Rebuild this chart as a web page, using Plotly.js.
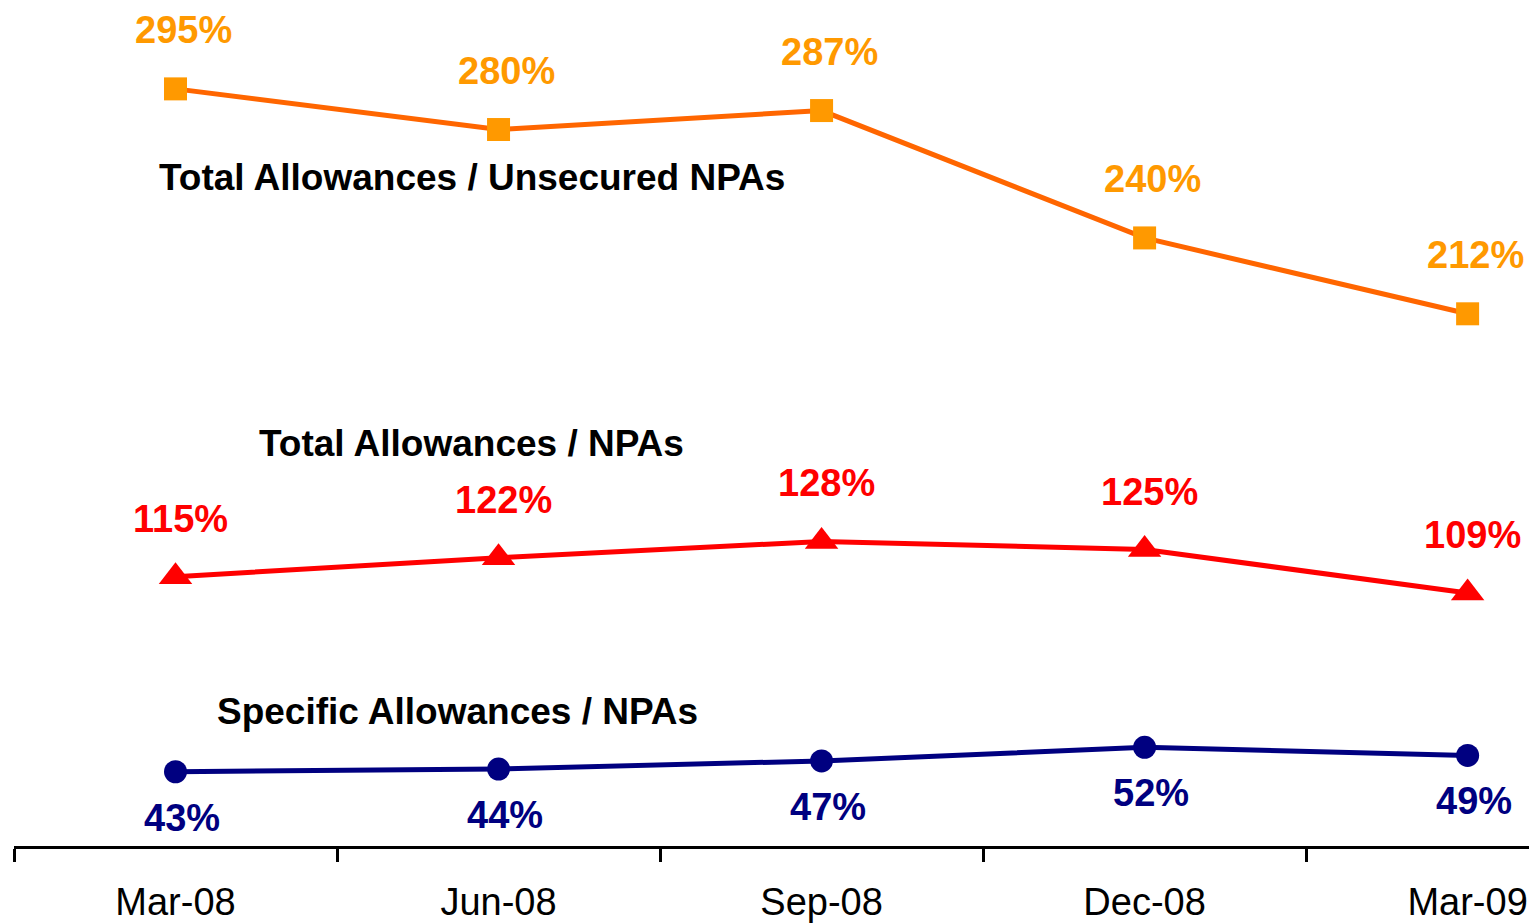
<!DOCTYPE html>
<html>
<head>
<meta charset="utf-8">
<script src="https://cdn.plot.ly/plotly-3.0.1.min.js"></script>
<style>
html,body{margin:0;padding:0;background:#fff;}
#chart{width:1529px;height:923px;}
</style>
</head>
<body>
<div id="chart"></div>
<script>
const categories = ["Mar-08", "Jun-08", "Sep-08", "Dec-08", "Mar-09"];
const unsecuredRatio = [295, 280, 287, 240, 212];
const totalRatio = [115, 122, 128, 125, 109];
const specificRatio = [43, 44, 47, 52, 49];
const seriesNames = ["Total Allowances / Unsecured NPAs", "Total Allowances / NPAs", "Specific Allowances / NPAs"];

const FONT = "Liberation Sans, Arial, Helvetica, sans-serif";

const traces = [
  {x: categories, y: unsecuredRatio, type: "scatter", mode: "lines+markers", name: seriesNames[0],
   line: {color: "#FF6600", width: 5}, marker: {symbol: "square", size: 23, color: "#FF9900"}},
  {x: categories, y: totalRatio, type: "scatter", mode: "lines+markers", name: seriesNames[1],
   line: {color: "#FF0000", width: 5}, marker: {symbol: "triangle-up", size: 29, color: "#FF0000"}},
  {x: categories, y: specificRatio, type: "scatter", mode: "lines+markers", name: seriesNames[2],
   line: {color: "#000080", width: 5}, marker: {symbol: "circle", size: 23, color: "#000080"}}
];

function labels(vals, color, xshift, yshift) {
  return vals.map((v, i) => ({
    x: categories[i], y: v, xref: "x", yref: "y", text: v + "%", showarrow: false,
    xshift: xshift, yshift: yshift, xanchor: "center", yanchor: "middle",
    font: {family: FONT, size: 38, color: color, weight: "bold"}
  }));
}

const annotations = [].concat(
  labels(unsecuredRatio, "#FF9900", 8, 59),
  labels(totalRatio, "#FF0000", 5, 58),
  labels(specificRatio, "#000080", 6, -46),
  [
    {xref: "paper", yref: "paper", x: (472 - 14) / 1515, y: (846 - 177) / 846, text: "<b>" + seriesNames[0] + "</b>",
     showarrow: false, xanchor: "center", yanchor: "middle", font: {family: FONT, size: 37, color: "#000"}},
    {xref: "paper", yref: "paper", x: (471 - 14) / 1515, y: (846 - 443) / 846, text: "<b>" + seriesNames[1] + "</b>",
     showarrow: false, xanchor: "center", yanchor: "middle", font: {family: FONT, size: 37, color: "#000"}},
    {xref: "paper", yref: "paper", x: (457 - 14) / 1515, y: (846 - 711) / 846, text: "<b>" + seriesNames[2] + "</b>",
     showarrow: false, xanchor: "center", yanchor: "middle", font: {family: FONT, size: 37, color: "#000"}}
  ]
);

const layout = {
  width: 1529, height: 923,
  margin: {l: 14, r: 0, t: 0, b: 77, pad: 0},
  paper_bgcolor: "#fff", plot_bgcolor: "#fff",
  showlegend: false,
  xaxis: {
    type: "category", range: [-0.5, 4.19], showgrid: false, zeroline: false,
    showline: true, linecolor: "#000", linewidth: 3,
    ticks: "outside", tickson: "boundaries", ticklen: 13, tickwidth: 3, tickcolor: "#000",
    ticklabelstandoff: 20,
    tickfont: {family: FONT, size: 38, color: "#000"}, fixedrange: true
  },
  yaxis: {
    range: [15.6, 327.8], visible: false, showgrid: false, zeroline: false, fixedrange: true
  },
  annotations: annotations
};

Plotly.newPlot("chart", traces, layout, {staticPlot: true, displayModeBar: false});
</script>
</body>
</html>
